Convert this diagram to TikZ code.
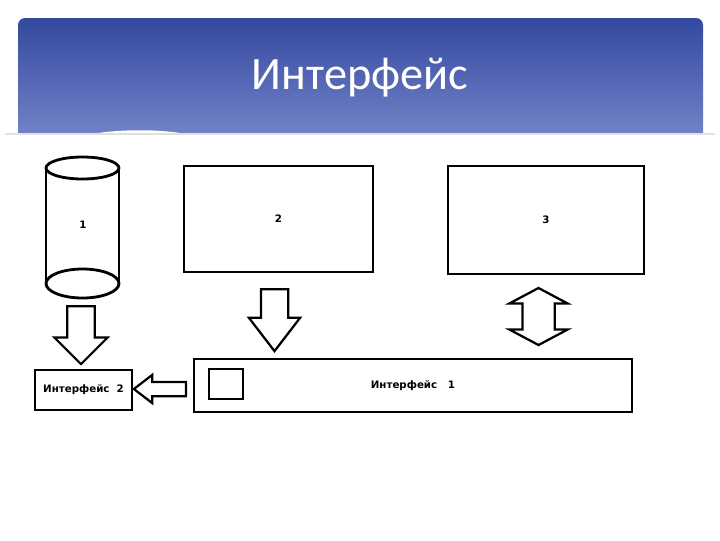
\documentclass[tikz,border=0pt]{standalone}
\usepackage{fontspec}
\setmainfont{Carlito}
\newfontfamily\paintfont{DejaVu Sans}
\usepackage{tikz}
\usetikzlibrary{arrows.meta,positioning,shapes.arrows,calc}

\definecolor{headtop}{HTML}{34489E}
\definecolor{headbot}{HTML}{7282C8}

\begin{document}
\begin{tikzpicture}[
  x=0.025cm, y=-0.025cm,
  box/.style={rectangle, draw, line width=2pt, inner sep=0pt, font=\paintfont\bfseries\fontsize{7.3}{8}\selectfont, align=center},
  blockarrow/.style={single arrow, draw, line width=1.6pt, inner sep=0pt, minimum width=0pt, single arrow head indent=0pt},
  bothways/.style={double arrow, draw, line width=1.6pt, inner sep=0pt, minimum width=0pt, double arrow head indent=0pt}
]
\useasboundingbox (0,0) rectangle (720,540);

% Header
\shade[top color=headtop, bottom color=headbot] (18,134) {[rounded corners=5pt] -- (18,18) -- (703,18)} -- (703,134) -- cycle;
\fill[white] (92,134) .. controls (120,129) and (160,129) .. (186,134) -- cycle;
\draw[black!12, line width=0.8pt] (5,134) -- (715,134);
\node[text=white, font=\fontsize{33}{40}\selectfont] (title) at (360,78) {Интерфейс};

% Storage
\draw[line width=2pt] (46,168) -- (46,283.5);
\draw[line width=2pt] (119,168) -- (119,283.5);
\draw[line width=2pt, fill=white] (82.5,168) ellipse [x radius=36.5, y radius=11];
\draw[line width=2pt] (82.5,283.5) ellipse [x radius=36.5, y radius=14.5];
\node[box, draw=none] (cyl) at (83,225) {1};

% Windows
\node[box, minimum width=4.725cm, minimum height=2.65cm] (win2) at (278.5,219) {2};
\node[box, minimum width=4.9cm, minimum height=2.7cm] (win3) at (546,220) {3};

% Interfaces
\node[box, minimum width=10.95cm, minimum height=1.325cm] (if1) at (413,385.5) {Интерфейс\ \ \ 1};
\node[box, minimum width=0.85cm, minimum height=0.75cm] (btn) at (226,384) {};
\node[box, minimum width=2.425cm, minimum height=1cm] (if2) at (83.5,390) {Интерфейс\ \ 2};

% Block arrows
\node[blockarrow, rotate=-90, anchor=tail, minimum height=1.45cm, inner sep=0.3125cm, single arrow head extend=0.325cm, single arrow tip angle=90] (arr1) at (81,305) {};
\node[blockarrow, rotate=-90, anchor=tail, minimum height=1.55cm, inner sep=0.3125cm, single arrow head extend=0.3cm, single arrow tip angle=75] (arr2) at (274.5,288) {};
\node[bothways, rotate=90, minimum height=1.425cm, inner sep=0.375cm, double arrow head extend=0.325cm, double arrow tip angle=124] (arr3) at (538.5,316.5) {};
\node[blockarrow, rotate=180, anchor=tail, minimum height=1.3cm, inner sep=0.15cm, single arrow head extend=0.175cm, single arrow tip angle=75] (arr4) at (187,389) {};

\end{tikzpicture}
\end{document}
